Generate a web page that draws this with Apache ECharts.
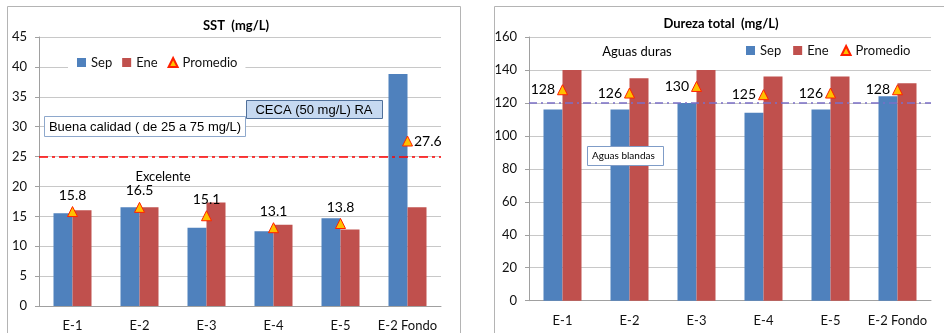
<!DOCTYPE html>
<html><head><meta charset="utf-8">
<script src="https://cdn.jsdelivr.net/npm/echarts@6/dist/echarts.min.js"></script>
<style>html,body{margin:0;padding:0;background:#fff}#c{width:944px;height:333px}</style>
</head><body><div id="c"></div>
<script>
const categories = ['E-1','E-2','E-3','E-4','E-5','E-2 Fondo'];
const sstSep = [15.5, 16.5, 13.1, 12.5, 14.7, 38.8];
const sstEne = [16.0, 16.5, 17.3, 13.6, 12.8, 16.5];
const sstProm = [15.8, 16.5, 15.1, 13.1, 13.8, 27.6];
const durSep = [116, 116, 120, 114, 116, 124];
const durEne = [140, 135, 140, 136, 136, 132];
const durProm = [128, 126, 130, 125, 126, 128];
const sstLimit = 25;
const durLimit = 120;

const FONT = 'Lato';
const BLUE = '#4f81bd', RED = '#c0504d';
const chart = echarts.init(document.getElementById('c'), null, {renderer:'canvas'});

function xAx(gi, margin){
  return {type:'category', gridIndex:gi, data:categories,
    axisLine:{lineStyle:{color:'#a0a0a0'}},
    axisTick:{length:5, lineStyle:{color:'#a0a0a0'}},
    axisLabel:{fontFamily:FONT, fontSize:13, color:'#111', margin:margin, interval:0}};
}
function yAx(gi, max, interval){
  return {type:'value', gridIndex:gi, min:0, max:max, interval:interval,
    axisLine:{show:true, lineStyle:{color:'#a0a0a0'}},
    axisTick:{show:true, length:4, lineStyle:{color:'#a0a0a0'}},
    splitLine:{lineStyle:{color:'#c8c8c8'}},
    axisLabel:{fontFamily:FONT, fontSize:13, color:'#111', margin:12}};
}
const triStyle = {color:'#ffc000', borderColor:'#ff2000', borderWidth:1, opacity:1};

const sstPromData = sstProm.map((v,i)=> i===5 ? {value:v, label:{position:'right', distance:1}} : v);

const option = {
  animation:false,
  backgroundColor:'#fff',
  grid:[
    {left:39, top:37, width:402, height:269, containLabel:false},
    {left:529, top:37, width:402, height:263.7, containLabel:false}
  ],
  xAxis:[xAx(0,13), xAx(1,14)],
  yAxis:[yAx(0,45,5), yAx(1,160,20)],
  legend:[
    {left:68, top:54, padding:[2,8,2,9], backgroundColor:'#fff', itemWidth:9, itemHeight:9, itemGap:10,
     textStyle:{fontFamily:FONT, fontSize:13, color:'#111'},
     data:[{name:'Sep', icon:'rect'},{name:'Ene', icon:'rect'},{name:'Promedio', icon:'triangle'}]},
    {left:737, top:42, padding:[2,8,2,9], itemWidth:9, itemHeight:9, itemGap:12,
     textStyle:{fontFamily:FONT, fontSize:13, color:'#111'},
     data:[{name:'Sep', icon:'rect'},{name:'Ene', icon:'rect'},{name:'Promedio', icon:'triangle'}]}
  ],
  series:[
    {name:'Sep', type:'bar', xAxisIndex:0, yAxisIndex:0, data:sstSep, barWidth:19, barGap:'0%', itemStyle:{color:BLUE}},
    {name:'Ene', type:'bar', xAxisIndex:0, yAxisIndex:0, data:sstEne, barWidth:19, barGap:'0%', itemStyle:{color:RED}},
    {name:'Promedio', type:'scatter', xAxisIndex:0, yAxisIndex:0, data:sstPromData, symbol:'triangle', symbolSize:10,
     itemStyle:triStyle, z:5,
     label:{show:true, position:'top', distance:4, fontFamily:FONT, fontSize:14, color:'#000', opacity:1},
     markLine:{silent:true, symbol:'none', label:{show:false},
       lineStyle:{color:'#ff0000', width:1.5, type:[9,4,3,4], opacity:1}, data:[{yAxis:sstLimit}]}},
    {name:'Sep', type:'bar', xAxisIndex:1, yAxisIndex:1, data:durSep, barWidth:19, barGap:'0%', itemStyle:{color:BLUE}},
    {name:'Ene', type:'bar', xAxisIndex:1, yAxisIndex:1, data:durEne, barWidth:19, barGap:'0%', itemStyle:{color:RED}},
    {name:'Promedio', type:'scatter', xAxisIndex:1, yAxisIndex:1, data:durProm, symbol:'triangle', symbolSize:10,
     itemStyle:triStyle, z:5,
     label:{show:true, position:'left', distance:2, fontFamily:FONT, fontSize:14, color:'#000', opacity:1},
     markLine:{silent:true, symbol:'none', label:{show:false},
       lineStyle:{color:'#7b6fc6', width:1.5, type:[8,4,2,4], opacity:1}, data:[{yAxis:durLimit}]}}
  ],
  graphic:[
    {type:'rect', shape:{x:7.5, y:6.5, width:453, height:340}, style:{fill:'none', stroke:'#b4b4b4', lineWidth:1}, z:-10},
    {type:'rect', shape:{x:494.5, y:6.5, width:470, height:340}, style:{fill:'none', stroke:'#b4b4b4', lineWidth:1}, z:-10},
    {type:'text', x:236, y:26, style:{text:'SST  (mg/L)', font:'bold 13px Lato', fill:'#000', textAlign:'center', textVerticalAlign:'middle'}, z:10},
    {type:'text', x:721, y:24, style:{text:'Dureza total  (mg/L)', font:'bold 13px Lato', fill:'#000', textAlign:'center', textVerticalAlign:'middle'}, z:10},
    {type:'rect', shape:{x:246.5, y:100.5, width:136, height:18}, style:{fill:'#c6d9f1', stroke:'#50709a', lineWidth:1}, z:10},
    {type:'text', x:314, y:110, style:{text:'CECA (50 mg/L) RA', font:'13px "Liberation Sans"', fill:'#000', textAlign:'center', textVerticalAlign:'middle'}, z:11},
    {type:'rect', shape:{x:44.5, y:116.5, width:201, height:20}, style:{fill:'#fff', stroke:'#8ea8cc', lineWidth:1}, z:10},
    {type:'text', x:145, y:127, style:{text:'Buena calidad ( de 25 a 75 mg/L)', font:'13px "Liberation Sans"', fill:'#000', textAlign:'center', textVerticalAlign:'middle'}, z:11},
    {type:'text', x:163, y:177, style:{text:'Excelente', font:'13px Lato', fill:'#000', textAlign:'center', textVerticalAlign:'middle'}, z:10},
    {type:'text', x:637, y:52, style:{text:'Aguas duras', font:'13px Lato', fill:'#000', textAlign:'center', textVerticalAlign:'middle'}, z:10},
    {type:'rect', shape:{x:587.5, y:146.5, width:76, height:19}, style:{fill:'#fff', stroke:'#7f9cc7', lineWidth:1}, z:10},
    {type:'text', x:592, y:156, style:{text:'Aguas blandas', font:'10px Lato', fill:'#000', textAlign:'left', textVerticalAlign:'middle'}, z:11}
  ]
};
chart.setOption(option);
</script></body></html>
